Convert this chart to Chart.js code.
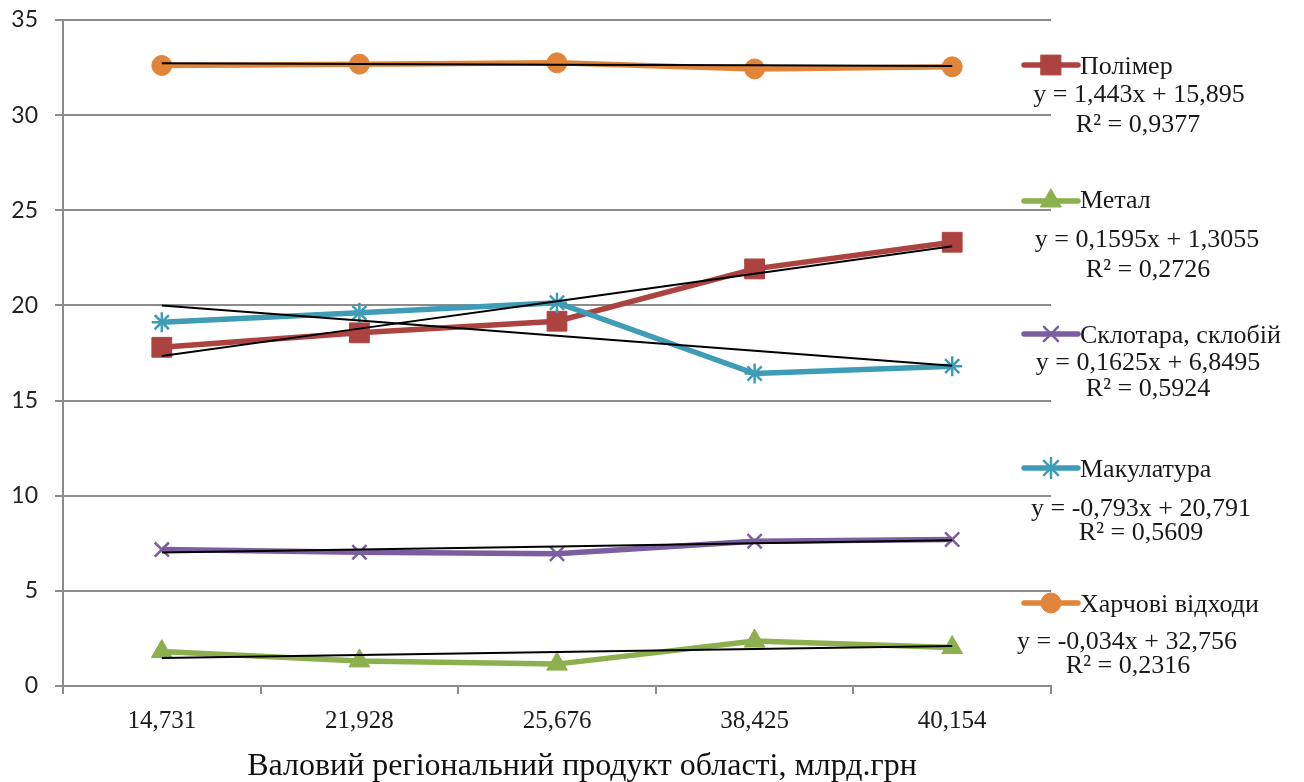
<!DOCTYPE html>
<html lang="uk">
<head>
<meta charset="utf-8">
<title>Утворення відходів і валовий регіональний продукт</title>
<script src="https://cdn.jsdelivr.net/npm/chart.js@4.4.1/dist/chart.umd.min.js"></script>
<style>
  html, body { margin: 0; padding: 0; background: #ffffff; }
  #wrap { width: 1304px; height: 782px; }
</style>
</head>
<body>
<div id="wrap"><canvas id="chart" width="1304" height="782"></canvas></div>
<script>
// Gross regional product, bn UAH (category labels on the x axis)
const categories = ['14,731', '21,928', '25,676', '38,425', '40,154'];

// Series names, in legend order
const seriesNames = ['Полімер', 'Метал', 'Склотара, склобій', 'Макулатура', 'Харчові відходи'];

// Share of each waste fraction, %
const polymer   = [17.80, 18.56, 19.17, 21.92, 23.32];
const metal     = [1.81, 1.32, 1.15, 2.36, 2.02];
const glass     = [7.17, 7.03, 6.95, 7.61, 7.70];
const paper     = [19.12, 19.61, 20.14, 16.42, 16.81];
const foodWaste = [32.61, 32.68, 32.75, 32.43, 32.54];

// Linear trend coefficients y = a·x + b (x = category number 1..5) and R²
const trendSlope     = [1.443, 0.1595, 0.1625, -0.793, -0.034];
const trendIntercept = [15.895, 1.3055, 6.8495, 20.791, 32.756];
const trendR2        = ['0,9377', '0,2726', '0,5924', '0,5609', '0,2316'];

// Y axis ticks
const yTicks = [0, 5, 10, 15, 20, 25, 30, 35];

const axisTitle = 'Валовий регіональний продукт області, млрд.грн';

const seriesValues = [polymer, metal, glass, paper, foodWaste];
const colors  = ['#AD4340', '#8DB04F', '#7B5E9F', '#3F9CB6', '#E08539'];
const styles  = ['rect', 'triangle', 'crossRot', 'star', 'circle'];
const radii   = [14, 12, 10, 10, 10];
const borders = [1, 1, 2.5, 2.5, 1];

const serif = '"Liberation Serif", "Times New Roman", serif';

function fmt(n) { return String(n).replace('.', ','); }
function equationText(i) {
  const a = fmt(trendSlope[i]);
  const b = fmt(trendIntercept[i]);
  return 'y = ' + a + 'x + ' + b;
}

const datasets = [];
seriesValues.forEach((vals, i) => {
  datasets.push({
    label: seriesNames[i],
    data: vals,
    borderColor: colors[i],
    backgroundColor: colors[i],
    borderWidth: 5.5,
    pointStyle: styles[i],
    pointRadius: radii[i],
    pointBorderWidth: borders[i],
    pointBorderColor: colors[i],
    pointBackgroundColor: colors[i],
    tension: 0,
    order: 10 - i
  });
});
seriesValues.forEach((vals, i) => {
  datasets.push({
    label: 'trend ' + seriesNames[i],
    data: categories.map((_, k) => trendSlope[i] * (k + 1) + trendIntercept[i]),
    borderColor: '#000000',
    borderWidth: 2,
    pointRadius: 0,
    tension: 0,
    order: 0
  });
});

// Legend entries with trend equations, placed in the right-hand column
const legendRows = [
  { line: 65,  name: 74,  eq: 102, eqX: 1139, r2: 132, r2X: 1138 },
  { line: 201, name: 208, eq: 247, eqX: 1147, r2: 277, r2X: 1148 },
  { line: 334, name: 343, eq: 370, eqX: 1148, r2: 396, r2X: 1148 },
  { line: 468, name: 477, eq: 516, eqX: 1141, r2: 540, r2X: 1141 },
  { line: 603, name: 612, eq: 649, eqX: 1127, r2: 673, r2X: 1128 }
];

const sideLegend = {
  id: 'sideLegend',
  afterDraw(chart) {
    const ctx = chart.ctx;
    ctx.save();
    legendRows.forEach((row, i) => {
      ctx.strokeStyle = colors[i];
      ctx.lineWidth = 5.5;
      ctx.lineCap = 'round';
      ctx.beginPath();
      ctx.moveTo(1024, row.line);
      ctx.lineTo(1078, row.line);
      ctx.stroke();
      ctx.fillStyle = colors[i];
      ctx.strokeStyle = colors[i];
      ctx.lineWidth = borders[i];
      Chart.helpers.drawPoint(ctx, {
        pointStyle: styles[i], radius: radii[i], rotation: 0, borderWidth: borders[i]
      }, 1051, row.line);

      ctx.fillStyle = '#1a1a1a';
      ctx.font = '26px ' + serif;
      ctx.textBaseline = 'alphabetic';
      ctx.textAlign = 'left';
      ctx.fillText(seriesNames[i], 1080, row.name);
      ctx.textAlign = 'center';
      ctx.fillText(equationText(i), row.eqX, row.eq);
      ctx.fillText('R² = ' + trendR2[i], row.r2X, row.r2);
    });

    // x axis title below the category labels
    ctx.fillStyle = '#111111';
    ctx.font = '32px ' + serif;
    ctx.textAlign = 'center';
    ctx.textBaseline = 'alphabetic';
    ctx.fillText(axisTitle, 582, 775);
    ctx.restore();
  }
};

const gridColor = '#8c8c8c';

new Chart(document.getElementById('chart'), {
  type: 'line',
  data: { labels: categories, datasets },
  plugins: [sideLegend],
  options: {
    responsive: false,
    devicePixelRatio: 1,
    animation: false,
    layout: { padding: { top: 20, right: 253, left: 0, bottom: 0 } },
    plugins: {
      legend: { display: false },
      tooltip: { enabled: false }
    },
    scales: {
      x: {
        type: 'category',
        offset: true,
        grid: {
          display: true,
          offset: true,
          drawOnChartArea: false,
          drawTicks: true,
          tickLength: 8,
          color: gridColor,
          lineWidth: 2
        },
        border: { display: true, color: gridColor, width: 2 },
        ticks: {
          color: '#1a1a1a',
          padding: 12,
          maxRotation: 0,
          font: { family: serif, size: 25 }
        },
        afterFit(scale) { scale.height = 96; }
      },
      y: {
        min: 0,
        max: 35,
        afterBuildTicks(scale) { scale.ticks = yTicks.map(v => ({ value: v })); },
        grid: {
          color: gridColor,
          lineWidth: 2,
          drawTicks: true,
          tickLength: 8
        },
        border: { display: true, color: gridColor, width: 2 },
        ticks: {
          color: '#222222',
          padding: 17,
          font: { family: 'Lato, "Open Sans", sans-serif', size: 23 }
        },
        afterFit(scale) {
          scale.width = 63;
          scale.paddingTop = 0;
          scale.paddingBottom = 0;
        }
      }
    }
  }
});
</script>
</body>
</html>
